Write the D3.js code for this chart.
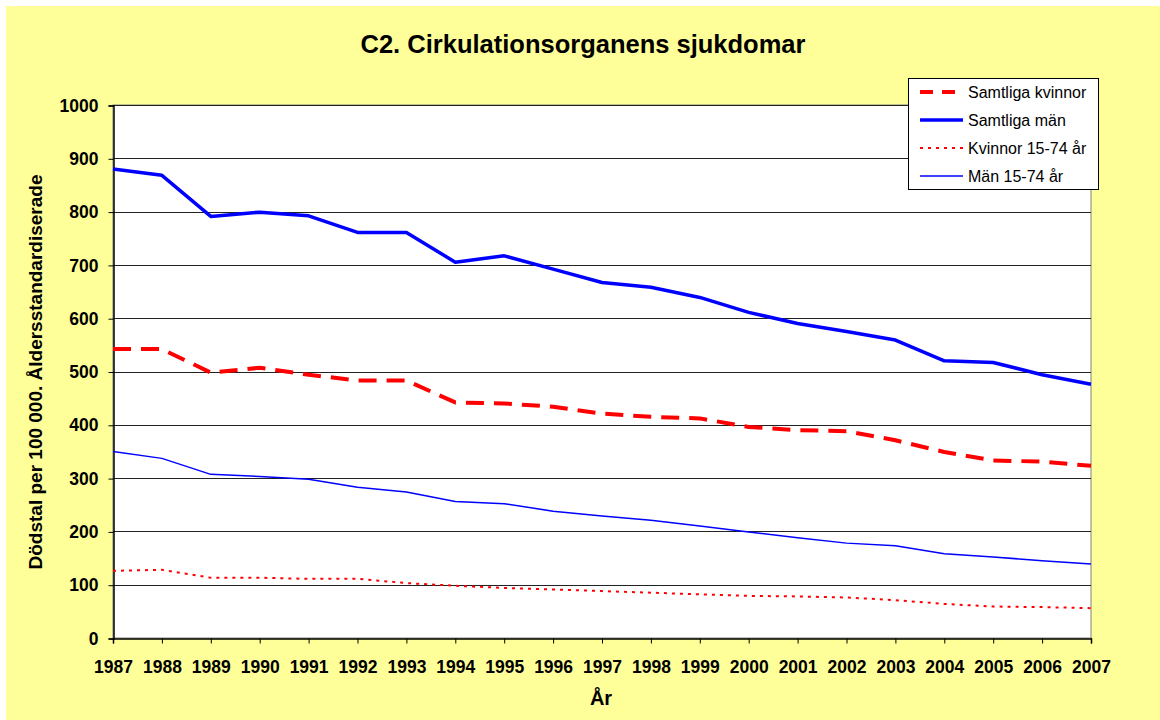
<!DOCTYPE html>
<html>
<head>
<meta charset="utf-8">
<script src="https://cdn.jsdelivr.net/npm/d3@7"></script>
<style>
  body { margin: 0; background: #fff; }
  text { font-family: "Liberation Sans", Arial, sans-serif; }
</style>
</head>
<body>
<div id="chart"></div>
<script>
// data
const years = [1987,1988,1989,1990,1991,1992,1993,1994,1995,1996,1997,1998,1999,2000,2001,2002,2003,2004,2005,2006,2007];
const samtligaKvinnor = [542,542,498,507,494,483,483,442,440,434,421,415,412,396,390,388,371,349,333,331,323];
const samtligaMan = [880,868,791,799,792,761,761,705,717,692,667,658,639,611,590,575,559,520,517,494,476];
const kvinnor1574 = [126,128,113,113,111,111,103,98,94,91,88,85,82,79,78,76,71,64,59,58,56];
const man1574 = [350,337,307,303,298,283,274,256,252,238,229,221,210,199,188,178,173,158,152,145,139];
const yTicks = [0,100,200,300,400,500,600,700,800,900,1000];

const series = [
  { name: "Samtliga kvinnor", values: samtligaKvinnor, color: "#ff0000", width: 4, dash: "18,10" },
  { name: "Samtliga män", values: samtligaMan, color: "#0000ff", width: 3.5, dash: null },
  { name: "Kvinnor 15-74 år", values: kvinnor1574, color: "#ff0000", width: 2, dash: "3,5" },
  { name: "Män 15-74 år", values: man1574, color: "#0000ff", width: 1.5, dash: null }
];

const W = 1160, H = 720;
const plotL = 113, plotR = 1091, plotT = 105, plotB = 638;

const svg = d3.select("#chart").append("svg")
  .attr("width", W).attr("height", H);

// yellow chart background
svg.append("rect")
  .attr("x", 6).attr("y", 6)
  .attr("width", W - 6).attr("height", H - 6)
  .attr("fill", "#ffff99");

let x = d3.scalePoint().domain(years).range([plotL, plotR]);
let y = d3.scaleLinear().domain([0, 1000]).range([plotB, plotT]);

// plot area
svg.append("rect")
  .attr("x", plotL).attr("y", plotT)
  .attr("width", plotR - plotL).attr("height", plotB - plotT)
  .attr("fill", "#fff")
  .attr("stroke", "#808080").attr("stroke-width", 1);

// gridlines
svg.append("g").selectAll("line")
  .data(yTicks.filter(d => d > 0))
  .enter().append("line")
  .attr("x1", plotL).attr("x2", plotR)
  .attr("y1", d => Math.round(y(d)) + 0.5)
  .attr("y2", d => Math.round(y(d)) + 0.5)
  .attr("stroke", "#222").attr("stroke-width", 1);

// axes
let yAxis = d3.axisLeft(y).tickValues(yTicks).tickSize(5).tickPadding(10).tickFormat(d3.format("d"));
let gy = svg.append("g").attr("transform", "translate(" + (plotL + 0.5) + ",0.5)").call(yAxis);
gy.select(".domain").attr("stroke", "#000").attr("stroke-width", 1.5);
gy.selectAll(".tick line").attr("stroke", "#000");
gy.selectAll("text")
  .attr("font-size", "17.5px").attr("font-weight", "bold").attr("fill", "#000")
  .style("font-family", "Liberation Sans, Arial, sans-serif");

let xAxis = d3.axisBottom(x).tickSize(5).tickPadding(17).tickFormat(d3.format("d"));
let gx = svg.append("g").attr("transform", "translate(0," + (plotB + 0.5) + ")").call(xAxis);
gx.select(".domain").attr("stroke", "#000").attr("stroke-width", 1.5);
gx.selectAll(".tick line").attr("stroke", "#000");
gx.selectAll("text")
  .attr("font-size", "17.5px").attr("font-weight", "bold").attr("fill", "#000")
  .style("font-family", "Liberation Sans, Arial, sans-serif");

// lines
let line = d3.line()
  .x((d, i) => x(years[i]))
  .y(d => y(d))
  .curve(d3.curveLinear);

svg.append("g").selectAll("path")
  .data(series)
  .enter().append("path")
  .attr("d", d => line(d.values))
  .attr("fill", "none")
  .attr("stroke", d => d.color)
  .attr("stroke-width", d => d.width)
  .attr("stroke-dasharray", d => d.dash)
  .attr("stroke-linejoin", "round");

// title and axis labels
svg.append("text")
  .attr("x", 583).attr("y", 53)
  .attr("text-anchor", "middle")
  .attr("font-size", "25.5px").attr("font-weight", "bold")
  .text("C2. Cirkulationsorganens sjukdomar");

svg.append("text")
  .attr("x", 601).attr("y", 705)
  .attr("text-anchor", "middle")
  .attr("font-size", "20px").attr("font-weight", "bold")
  .text("År");

svg.append("text")
  .attr("transform", "translate(42,372) rotate(-90)")
  .attr("text-anchor", "middle")
  .attr("font-size", "19px").attr("font-weight", "bold")
  .text("Dödstal per 100 000. Åldersstandardiserade");

// legend
let lg = svg.append("g");
lg.append("rect")
  .attr("x", 908.5).attr("y", 78.5).attr("width", 190).attr("height", 111)
  .attr("fill", "#fff").attr("stroke", "#000").attr("stroke-width", 1);

let items = lg.selectAll("g.item")
  .data(series)
  .enter().append("g")
  .attr("class", "item")
  .attr("transform", (d, i) => "translate(0," + (92 + i * 28) + ")");
items.append("line")
  .attr("x1", 920).attr("x2", 963)
  .attr("stroke", d => d.color)
  .attr("stroke-width", d => d.width)
  .attr("stroke-dasharray", d => d.dash ? (d.width > 3 ? "13,9" : "3,5") : null);
items.append("text")
  .attr("x", 968).attr("y", 6)
  .attr("font-size", "16px")
  .text(d => d.name);
</script>
</body>
</html>
